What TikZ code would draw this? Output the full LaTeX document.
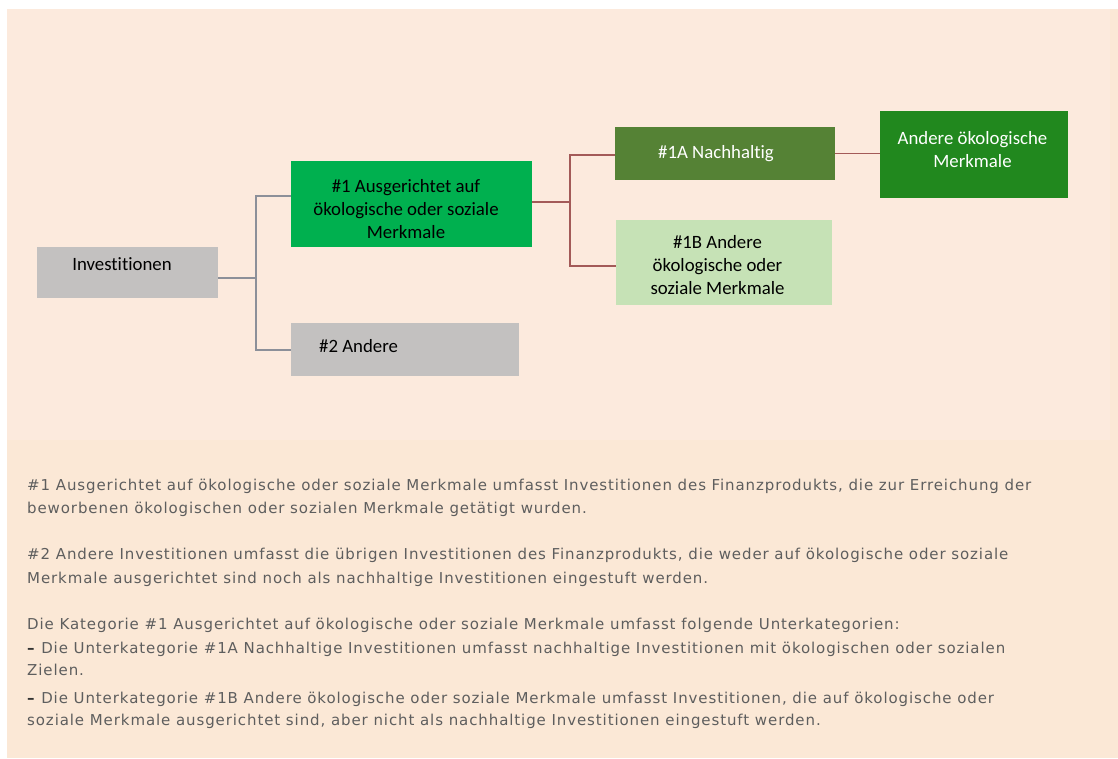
\documentclass[tikz,border=0pt]{standalone}
\usepackage{fontspec}
\setmainfont[Ligatures=NoCommon]{Carlito}
\newfontfamily\parafont[LetterSpace=6]{DejaVu Sans}
\definecolor{bgout}{HTML}{FFFFFF}
\definecolor{bgmain}{HTML}{FBE8D6}
\definecolor{bgdiag}{HTML}{FCEADD}
\definecolor{greybox}{HTML}{C3C1C0}
\definecolor{greenA}{HTML}{00B04F}
\definecolor{olive}{HTML}{558235}
\definecolor{forest}{HTML}{21881E}
\definecolor{pale}{HTML}{C6E2B6}
\definecolor{greyline}{HTML}{8C9099}
\definecolor{redline}{HTML}{A35A58}
\definecolor{paratext}{HTML}{5E5E5E}
\begin{document}
\begin{tikzpicture}[x=1pt,y=-1pt,
  box/.style={draw=none, inner sep=0pt, outer sep=0pt},
  boxtext/.style={inner sep=0pt, font=\fontsize{18.8}{23}\selectfont, align=center},
  glink/.style={draw=greyline, line width=1.6pt},
  rlink/.style={draw=redline, line width=1.9pt},
  para/.style={anchor=base west, inner sep=0pt, text=paratext, font=\parafont\fontsize{15}{23}\selectfont}]
\useasboundingbox (0,0) rectangle (1118,758);
\fill[bgout] (0,0) rectangle (1118,758);
\fill[bgmain] (7,9) rectangle (1118,758);
\fill[bgdiag] (7,9) rectangle (1110,440);

% boxes
\node[box, fill=greybox, minimum width=181pt, minimum height=51pt] (inv) at (127.5,272.5) {};
\node[box, fill=greenA, minimum width=241pt, minimum height=86pt] (a1) at (411.5,204) {};
\node[box, fill=greybox, minimum width=228pt, minimum height=53pt] (a2) at (405,349.5) {};
\node[box, fill=olive, minimum width=220pt, minimum height=53pt] (b1) at (725,153.5) {};
\node[box, fill=pale, minimum width=216pt, minimum height=85pt] (b2) at (724,262.5) {};
\node[box, fill=forest, minimum width=188pt, minimum height=87pt] (c1) at (974,154.5) {};

% box texts
\node[boxtext, anchor=base] (tinv) at (122,270) {Investitionen};
\node[boxtext, anchor=center] (ta1) at (406,209) {\#1 Ausgerichtet auf\\ökologische oder soziale\\Merkmale};
\node[boxtext, anchor=base west] (ta2) at (319,352) {\#2 Andere};
\node[boxtext, anchor=base, text=white] (tb1) at (716,158) {\#1A Nachhaltig};
\node[boxtext, anchor=center] (tb2) at (717.5,265) {\#1B Andere\\ökologische oder\\soziale Merkmale};
\node[boxtext, anchor=center, text=white] (tc1) at (972.5,150) {Andere ökologische\\Merkmale};

% junctions
\coordinate (j1) at (256,278);
\coordinate (jt) at (256,196);
\coordinate (jb) at (256,350);
\coordinate (km) at (570,202);
\coordinate (kt) at (570,155);
\coordinate (kb) at (570,266);

\draw[glink] (inv.east |- j1) -- (j1);
\draw[glink] (jt -| a1.west) -- (jt) -- (jb) -- (jb -| a2.west);
\draw[rlink] (a1.east |- km) -- (km);
\draw[rlink] (kt -| b1.west) -- (kt) -- (kb) -- (kb -| b2.west);
\draw[rlink] (b1.east) -- (b1.east -| c1.west);

% explanatory text
\node[para] (p1) at (27,490) {\#1 Ausgerichtet auf ökologische oder soziale Merkmale umfasst Investitionen des Finanzprodukts, die zur Erreichung der};
\node[para] (p2) at (27,513) {beworbenen ökologischen oder sozialen Merkmale getätigt wurden.};
\node[para] (p3) at (27,559) {\#2 Andere Investitionen umfasst die übrigen Investitionen des Finanzprodukts, die weder auf ökologische oder soziale};
\node[para] (p4) at (27,583) {Merkmale ausgerichtet sind noch als nachhaltige Investitionen eingestuft werden.};
\node[para] (p5) at (27,629) {Die Kategorie \#1 Ausgerichtet auf ökologische oder soziale Merkmale umfasst folgende Unterkategorien:};
\node[para] (p6) at (27,653) {{\color{black!80}\textbf{–}} Die Unterkategorie \#1A Nachhaltige Investitionen umfasst nachhaltige Investitionen mit ökologischen oder sozialen};
\node[para] (p7) at (27,675) {Zielen.};
\node[para] (p8) at (27,703) {{\color{black!80}\textbf{–}} Die Unterkategorie \#1B Andere ökologische oder soziale Merkmale umfasst Investitionen, die auf ökologische oder};
\node[para] (p9) at (27,725) {soziale Merkmale ausgerichtet sind, aber nicht als nachhaltige Investitionen eingestuft werden.};
\end{tikzpicture}
\end{document}
